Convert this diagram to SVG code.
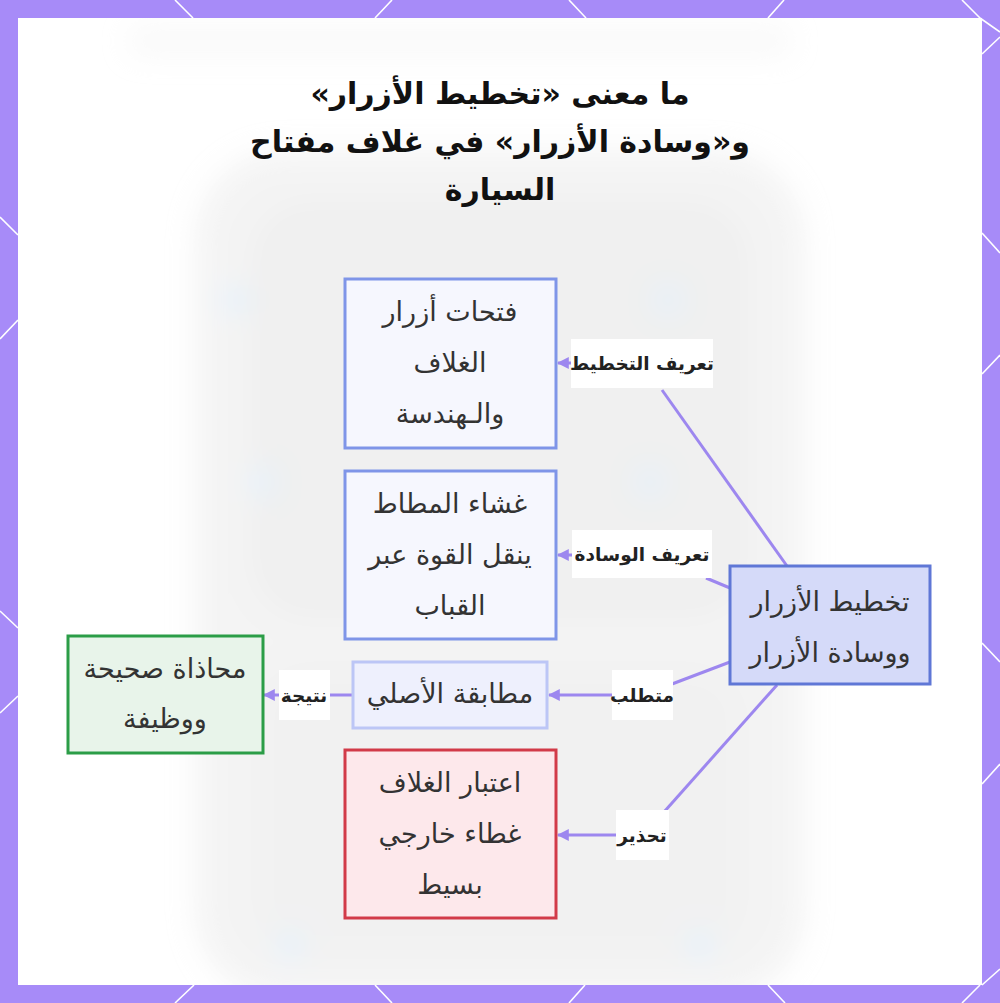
<svg xmlns="http://www.w3.org/2000/svg" width="1000" height="1003" viewBox="0 0 1000 1003">
<defs>
<style>
.frame{fill:#a78bf8}
.deco{stroke:#ffffff;stroke-width:1.6;fill:none}
.title{font-family:"DejaVu Sans","Liberation Sans",sans-serif;font-weight:bold;font-size:30px;fill:#111111;text-anchor:middle;direction:rtl}
.nt{font-family:"DejaVu Sans","Liberation Sans",sans-serif;font-size:27px;fill:#333333;text-anchor:middle;dominant-baseline:central;direction:rtl}
.lbl{font-family:"DejaVu Sans","Liberation Sans",sans-serif;font-weight:bold;font-size:18.5px;fill:#222222;text-anchor:middle;dominant-baseline:central;direction:rtl}
.lbg{fill:#ffffff}
.edge{stroke:#9d87ef;stroke-width:3;fill:none}
.blue{fill:#f6f7fe;stroke:#7f95e8;stroke-width:3}
.pale{fill:#eef0fd;stroke:#bcc6f6;stroke-width:3}
.green{fill:#e8f4ea;stroke:#2b9d47;stroke-width:3}
.red{fill:#fde8eb;stroke:#d23a48;stroke-width:3}
.main{fill:#d5daf9;stroke:#5f77d6;stroke-width:3}
</style>
<marker id="arr" viewBox="0 0 10 10" refX="9" refY="5" markerWidth="4" markerHeight="4" orient="auto-start-reverse">
<path d="M0,0 L10,5 L0,10 z" fill="#9d87ef"/>
</marker>
<filter id="blur" x="-20%" y="-20%" width="140%" height="140%"><feGaussianBlur stdDeviation="14"/></filter>
<clipPath id="inner"><rect x="18" y="18" width="964" height="967"/></clipPath>
</defs>
<rect x="0" y="0" width="1000" height="1003" class="frame"/>
<g class="deco">
<line x1="175" y1="0" x2="193" y2="18"/><line x1="392" y1="0" x2="375" y2="18"/><line x1="569" y1="0" x2="586" y2="18"/><line x1="784" y1="0" x2="768" y2="18"/><line x1="962" y1="0" x2="980" y2="18"/>
<line x1="194" y1="985" x2="175" y2="1003"/><line x1="375" y1="985" x2="392" y2="1003"/><line x1="585" y1="985" x2="569" y2="1003"/><line x1="768" y1="985" x2="785" y2="1003"/><line x1="980" y1="985" x2="962" y2="1003"/>
<line x1="0" y1="217" x2="18" y2="235"/><line x1="0" y1="339" x2="18" y2="320"/><line x1="0" y1="611" x2="18" y2="628"/><line x1="0" y1="713" x2="18" y2="696"/>
<line x1="980" y1="18" x2="1000" y2="32"/><line x1="982" y1="54" x2="1000" y2="37"/><line x1="982" y1="233" x2="1000" y2="253"/><line x1="982" y1="374" x2="1000" y2="355"/><line x1="982" y1="643" x2="1000" y2="662"/><line x1="982" y1="784" x2="1000" y2="764"/><line x1="982" y1="985" x2="1000" y2="969"/>
</g>
<rect x="18" y="18" width="964" height="967" fill="#ffffff"/>
<g clip-path="url(#inner)">
<g filter="url(#blur)" opacity="0.5">
<rect x="130" y="28" width="660" height="26" rx="10" fill="#e6e6e6"/>
<rect x="195" y="150" width="610" height="850" rx="90" fill="#d8d8d8"/>
<rect x="250" y="200" width="500" height="420" rx="60" fill="#c8c8c8"/>
<rect x="250" y="660" width="500" height="300" rx="60" fill="#cfcfcf"/>
<circle cx="235" cy="300" r="14" fill="#9fd0f5"/><circle cx="668" cy="300" r="14" fill="#9fd0f5"/>
<circle cx="262" cy="482" r="14" fill="#9fd0f5"/><circle cx="650" cy="482" r="14" fill="#9fd0f5"/>
<circle cx="290" cy="945" r="14" fill="#9fd0f5"/><circle cx="700" cy="945" r="14" fill="#9fd0f5"/>
</g>
</g>
<rect x="18" y="18" width="964" height="967" fill="#ffffff" opacity="0.45"/>
<g id="title">
<text class="title" x="500" y="104">ما معنى «تخطيط الأزرار»</text>
<text class="title" x="500" y="152">و«وسادة الأزرار» في غلاف مفتاح</text>
<text class="title" x="500" y="200">السيارة</text>
</g>
<g id="connectors">
<path class="edge" d="M787,566 L662,390"/>
<path class="edge" d="M580,363 L558,363" marker-end="url(#arr)"/>
<path class="edge" d="M730,588 L706,578"/>
<path class="edge" d="M580,555 L558,555" marker-end="url(#arr)"/>
<path class="edge" d="M730,662 L672,684"/>
<path class="edge" d="M615,695 L549,695" marker-end="url(#arr)"/>
<path class="edge" d="M777,685 L664,812"/>
<path class="edge" d="M620,835 L558,835" marker-end="url(#arr)"/>
<path class="edge" d="M352,695 L264,695" marker-end="url(#arr)"/>
</g>
<g id="edge-labels">
<rect class="lbg" x="571" y="339" width="142" height="49"/><text class="lbl" x="642" y="363">تعريف التخطيط</text>
<rect class="lbg" x="572" y="530" width="140" height="48"/><text class="lbl" x="642" y="554">تعريف الوسادة</text>
<rect class="lbg" x="612" y="670" width="61" height="50"/><text class="lbl" x="642" y="695">متطلب</text>
<rect class="lbg" x="616" y="810" width="53" height="50"/><text class="lbl" x="642" y="835">تحذير</text>
<rect class="lbg" x="279" y="670" width="51" height="50"/><text class="lbl" x="304" y="695">نتيجة</text>
</g>
<g id="node-openings">
<rect class="blue" x="345" y="279" width="211" height="169"/>
<text class="nt" x="450" y="311">فتحات أزرار</text>
<text class="nt" x="450" y="362">الغلاف</text>
<text class="nt" x="450" y="413">والـهندسة</text>
</g>
<g id="node-membrane">
<rect class="blue" x="345" y="471" width="211" height="168"/>
<text class="nt" x="450" y="503">غشاء المطاط</text>
<text class="nt" x="450" y="554">ينقل القوة عبر</text>
<text class="nt" x="450" y="605">القباب</text>
</g>
<g id="node-match">
<rect class="pale" x="353" y="662" width="194" height="66"/>
<text class="nt" x="450" y="693">مطابقة الأصلي</text>
</g>
<g id="node-result">
<rect class="green" x="68" y="636" width="195" height="117"/>
<text class="nt" x="165" y="668">محاذاة صحيحة</text>
<text class="nt" x="165" y="718">ووظيفة</text>
</g>
<g id="node-warning">
<rect class="red" x="345" y="750" width="211" height="168"/>
<text class="nt" x="450" y="782">اعتبار الغلاف</text>
<text class="nt" x="450" y="833">غطاء خارجي</text>
<text class="nt" x="450" y="884">بسيط</text>
</g>
<g id="node-main">
<rect class="main" x="730" y="566" width="200" height="118"/>
<text class="nt" x="830" y="601">تخطيط الأزرار</text>
<text class="nt" x="830" y="652">ووسادة الأزرار</text>
</g>
</svg>
